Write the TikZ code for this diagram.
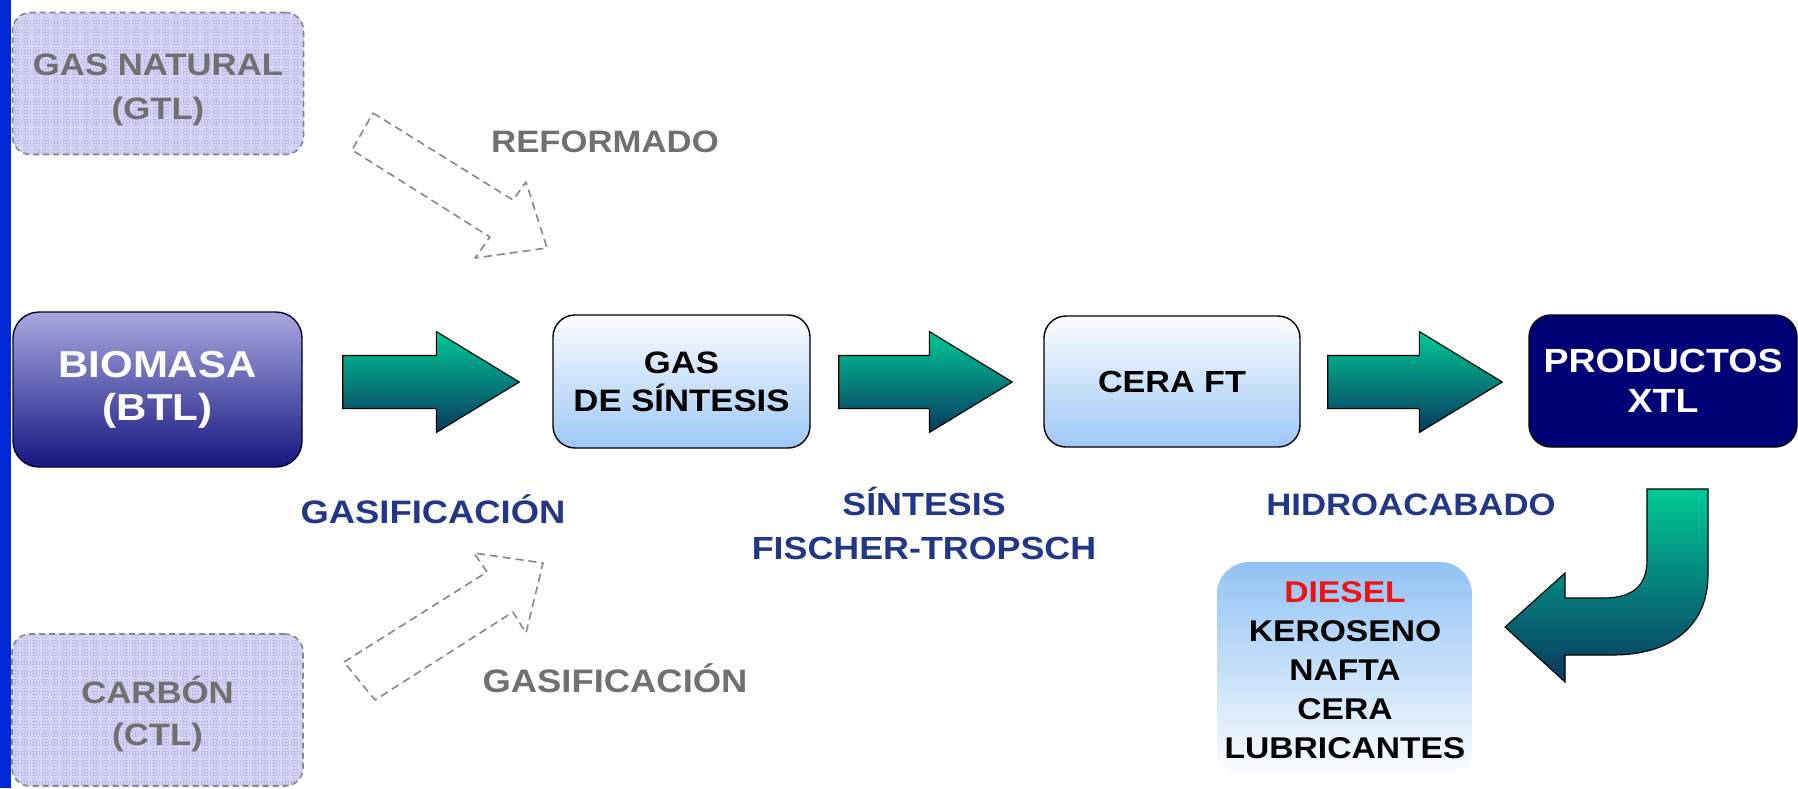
\documentclass[tikz,border=0pt]{standalone}
\usepackage{fontspec}
\setmainfont{Liberation Sans}[FakeStretch=1.12]
\usetikzlibrary{calc}
\definecolor{barblue}{RGB}{0,40,215}
\definecolor{ghostfill}{RGB}{214,214,244}
\definecolor{ghostline}{RGB}{190,190,234}
\definecolor{ghostgrey}{RGB}{112,112,112}
\definecolor{dashgrey}{RGB}{135,135,135}
\definecolor{biotop}{RGB}{168,168,224}
\definecolor{biobot}{RGB}{22,22,128}
\definecolor{lbtop}{RGB}{252,253,255}
\definecolor{lbbot}{RGB}{158,200,246}
\definecolor{navybox}{RGB}{0,0,118}
\definecolor{grtop}{RGB}{0,202,150}
\definecolor{grbot}{RGB}{10,55,95}
\definecolor{labblue}{RGB}{35,55,135}
\definecolor{prodtop}{RGB}{145,195,245}
\definecolor{dieselred}{RGB}{238,20,20}
\tikzset{
  fs/.style n args={2}{font=\bfseries\fontsize{#1}{#2}\selectfont},
  ghost/.style={rounded corners=18pt, draw=dashgrey, line width=1.6pt,
    dash pattern=on 6pt off 4pt, fill=ghostfill, text=ghostgrey, align=center, inner sep=0pt,
    path picture={\draw[ghostline, line width=0.6pt]
      (path picture bounding box.south west) grid[step=3pt] (path picture bounding box.north east);}},
  stagebox/.style={rounded corners=22pt, draw=black, line width=1.4pt, align=center, inner sep=0pt},
  lightbox/.style={stagebox, top color=lbtop, bottom color=lbbot},
  lab/.style={anchor=base, inner sep=0pt},
  fatarrowstyle/.style={top color=grtop, bottom color=grbot, draw=black, line width=1.1pt},
  ghostarrow/.style={draw=dashgrey, line width=1.6pt, dash pattern=on 8pt off 5pt, line join=round},
}
\newcommand\fatarrow[2]{%
  \shade[fatarrowstyle] ($#1+(0,-26.5)$) -- ($#2+(-83,-26.5)$) -- ($#2+(-83,-50.5)$) -- #2
    -- ($#2+(-83,50.5)$) -- ($#2+(-83,26.5)$) -- ($#1+(0,26.5)$) -- cycle;}
\begin{document}
\begin{tikzpicture}[x=1pt,y=-1pt]
\useasboundingbox (0,0) rectangle (1798,788);
\fill[white] (0,0) rectangle (1798,788);
\fill[barblue] (0,0) rectangle (11,788);

% ghost sources
\node[ghost, minimum width=291pt, minimum height=142pt, fs={31}{44}] (gtl) at (158,83.5) {\rule{0pt}{34pt}GAS NATURAL\\(GTL)};
\node[ghost, minimum width=291pt, minimum height=152pt, fs={31}{42}] (ctl) at (157.5,710) {\rule{0pt}{36pt}CARBÓN\\(CTL)};

% main chain
\node[stagebox, top color=biotop, bottom color=biobot, draw=black!80!blue, text=white,
  minimum width=289pt, minimum height=155pt, rounded corners=26pt, fs={37.5}{43}] (bio) at (157.5,389.5) {BIOMASA\\(BTL)};
\node[lightbox, minimum width=257pt, minimum height=133pt, fs={31}{38}] (gas) at (681.5,381.5) {GAS\\DE SÍNTESIS};
\node[lightbox, minimum width=256pt, minimum height=131pt, fs={30.5}{38}] (cera) at (1172,381.5) {CERA FT};
\node[stagebox, fill=navybox, text=white, minimum width=268pt, minimum height=132pt, fs={33.5}{40}] (prod) at (1663,381) {PRODUCTOS\\XTL};

% products list
\shade[top color=prodtop, bottom color=white, rounded corners=32pt] (1217,562) rectangle (1472,782);
\node[align=center, inner sep=0pt, fs={30}{39}] (plist) at (1345,670) {\textcolor{dieselred}{DIESEL}\\KEROSENO\\NAFTA\\CERA\\LUBRICANTES};

% green arrows
\coordinate (a1s) at ($(bio.east |- gas.west)+(40,0.5)$);
\coordinate (a1e) at ($(gas.west)+(-33,0.5)$);
\coordinate (a2s) at ($(gas.east)+(28,0.5)$);
\coordinate (a2e) at ($(cera.west)+(-31,0.5)$);
\coordinate (a3s) at ($(cera.east)+(27,0.5)$);
\coordinate (a3e) at ($(prod.west |- cera.west)+(-26,0.5)$);
\fatarrow{(a1s)}{(a1e)}
\fatarrow{(a2s)}{(a2e)}
\fatarrow{(a3s)}{(a3e)}

% curved arrow from products to list
\shade[fatarrowstyle] (1647,489) -- (1708,489) -- (1708,575)
  .. controls (1708,625) and (1672,655) .. (1613,655) -- (1565,655) -- (1565,682) -- (1505,627)
  -- (1565,573) -- (1565,598) -- (1603,598) .. controls (1630,598) and (1647,588) .. (1647,560) -- cycle;

% ghost arrows
\draw[ghostarrow] (373,113) -- (513,200) -- (526,182) -- (547,248) -- (475,258) -- (490,237) -- (352,150) -- cycle;
\draw[ghostarrow] (344,662) -- (487,572) -- (474,553) -- (543,563) -- (526,633) -- (513,612) -- (375,700) -- cycle;

% labels
\node[lab, text=ghostgrey, fs={31}{36}] (lref) at (605,152) {REFORMADO};
\node[lab, text=ghostgrey, fs={32.5}{36}] (lgas2) at (615,692) {GASIFICACIÓN};
\node[lab, text=labblue, fs={32.5}{36}] (lgas) at (433,523) {GASIFICACIÓN};
\node[lab, text=labblue, fs={32}{36}] (lsin) at (924,515) {SÍNTESIS};
\node[lab, text=labblue, fs={32}{36}] (lft) at (924,559) {FISCHER-TROPSCH};
\node[lab, text=labblue, fs={31}{36}] (lhid) at (1411,515) {HIDROACABADO};
\end{tikzpicture}
\end{document}
